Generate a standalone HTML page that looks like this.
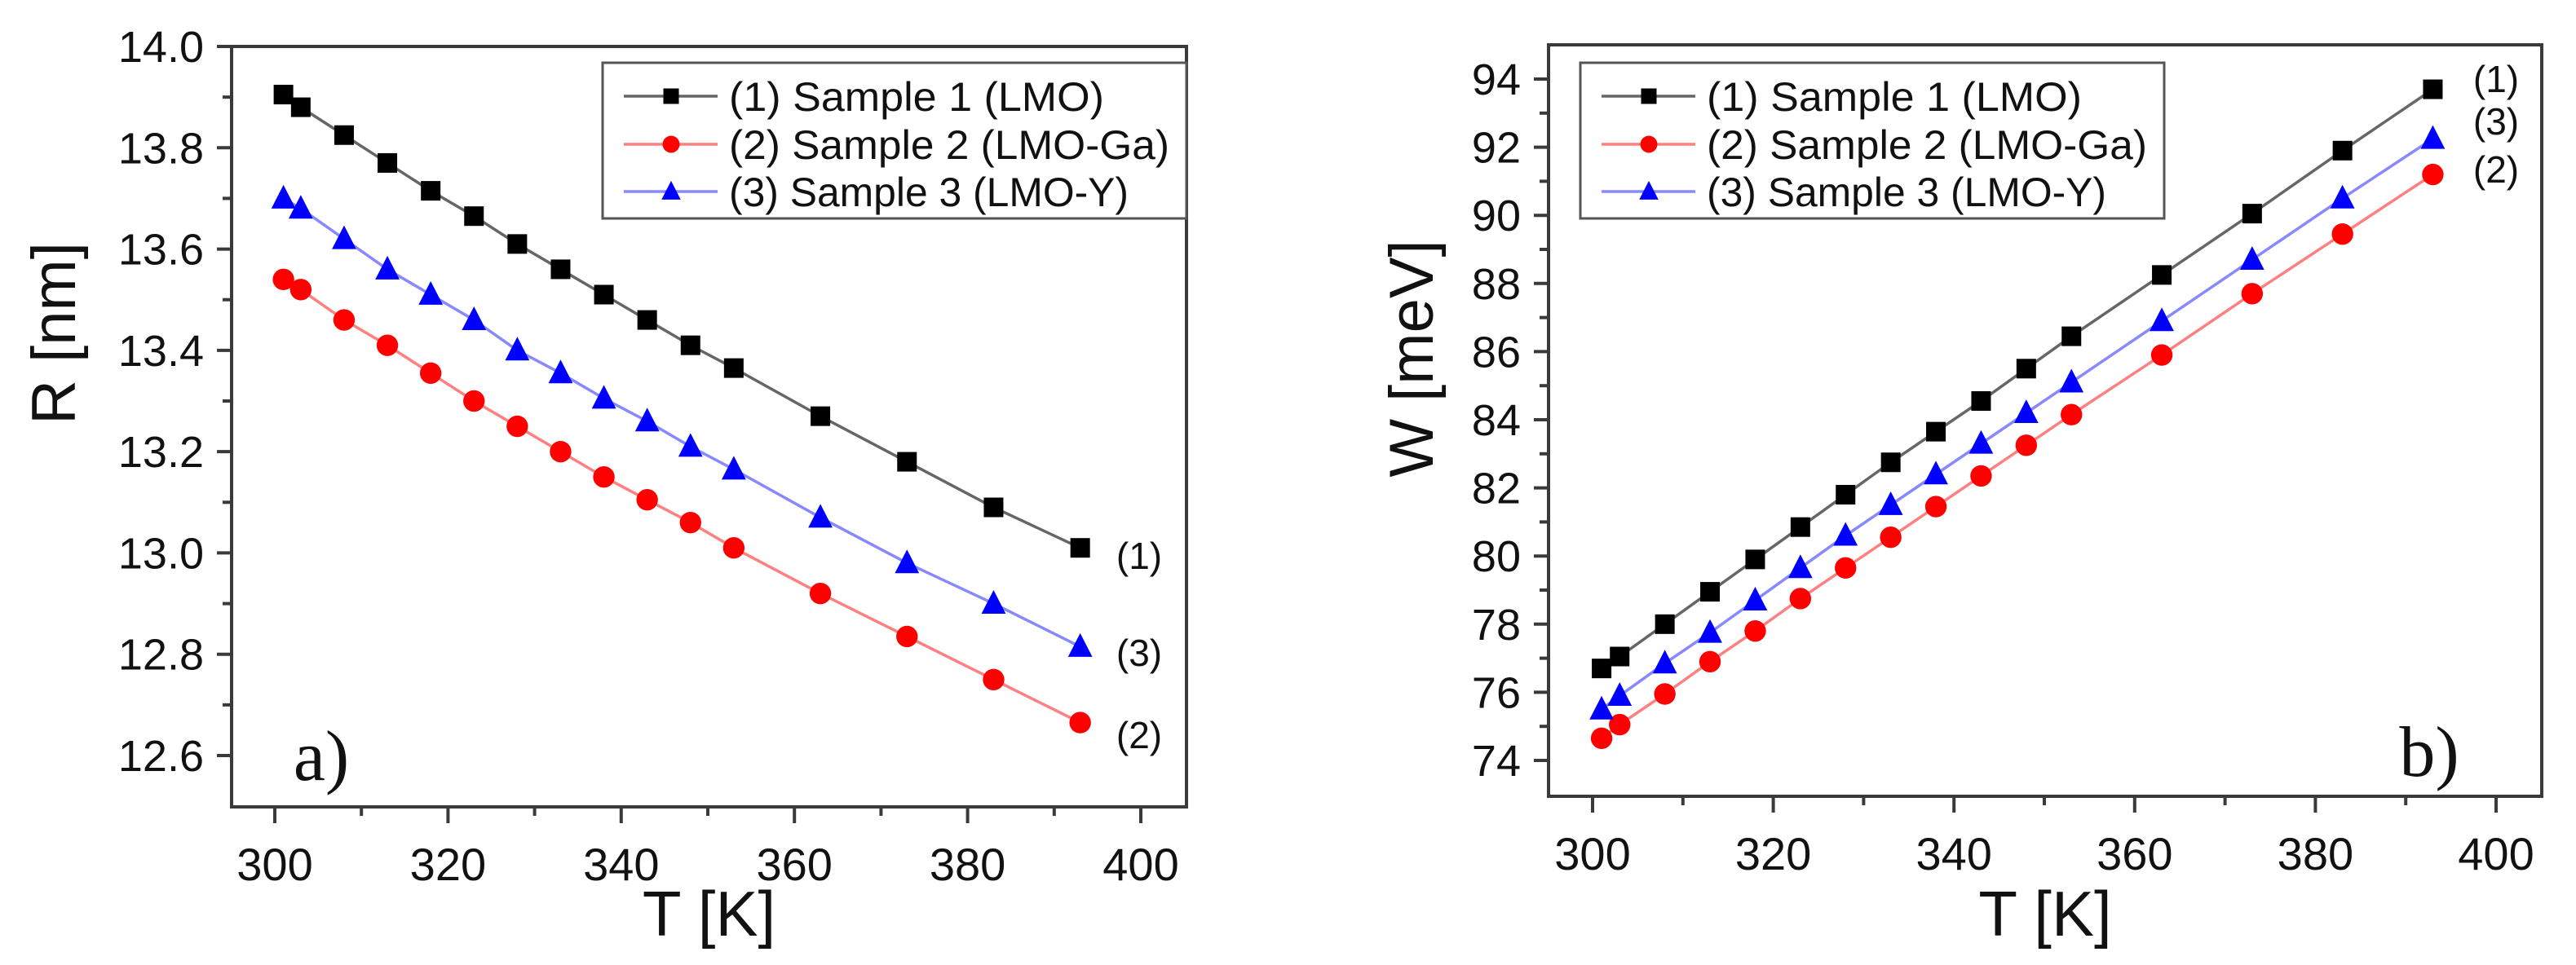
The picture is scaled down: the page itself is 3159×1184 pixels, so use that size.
<!DOCTYPE html>
<html><head><meta charset="utf-8"><style>
html,body{margin:0;padding:0;background:#fff;}
svg{display:block;}
text{font-family:"Liberation Sans",Arial,sans-serif;fill:#111;}
</style></head><body>
<svg id="chart" width="3159" height="1184" viewBox="0 0 3159 1184" xmlns="http://www.w3.org/2000/svg">
<rect x="0" y="0" width="3159" height="1184" fill="#fff"/>
<g id="pa"></g>
<g id="pb"></g>
</svg>
<script>
const temps = [301,303,308,313,318,323,328,333,338,343,348,353,363,373,383,393];
const rSample1 = [13.905,13.88,13.825,13.77,13.715,13.665,13.61,13.56,13.51,13.46,13.41,13.365,13.27,13.18,13.09,13.01];
const rSample2 = [13.54,13.52,13.46,13.41,13.355,13.30,13.25,13.20,13.15,13.105,13.06,13.01,12.92,12.835,12.75,12.665];
const rSample3 = [13.70,13.68,13.62,13.56,13.51,13.46,13.40,13.355,13.305,13.26,13.21,13.165,13.07,12.98,12.90,12.815];
const wSample1 = [76.7,77.05,78.0,78.95,79.9,80.85,81.8,82.75,83.65,84.55,85.5,86.45,88.25,90.05,91.9,93.7];
const wSample2 = [74.65,75.05,75.95,76.9,77.8,78.75,79.65,80.55,81.45,82.35,83.25,84.15,85.9,87.7,89.45,91.2];
const wSample3 = [75.5,75.9,76.85,77.75,78.7,79.65,80.6,81.5,82.4,83.3,84.2,85.1,86.9,88.7,90.5,92.25];
const xTicks = [300,320,340,360,380,400];
const rTicks = [12.6,12.8,13.0,13.2,13.4,13.6,13.8,14.0];
const wTicks = [74,76,78,80,82,84,86,88,90,92,94];
const legendLabels = ["(1) Sample 1 (LMO)","(2) Sample 2 (LMO-Ga)","(3) Sample 3 (LMO-Y)"];
const endLabels = ["(1)","(2)","(3)"];

const NS="http://www.w3.org/2000/svg";
function mk(parent,tag,attrs,txt){const e=document.createElementNS(NS,tag);for(const k in attrs)e.setAttribute(k,attrs[k]);if(txt!==undefined)e.textContent=txt;parent.appendChild(e);return e;}

const styles=[{line:"#666",fill:"#000",shape:"sq"},{line:"#ff8080",fill:"#f00",shape:"ci"},{line:"#8888ff",fill:"#00f",shape:"tr"}];

function marker(g,shape,cx,cy,fill,s){
  let e;
  if(shape==="sq"){e=mk(g,"rect",{x:cx-s*0.5,y:cy-s*0.5,width:s,height:s,fill:fill});}
  else if(shape==="ci"){e=mk(g,"circle",{cx:cx,cy:cy,r:s*0.55,fill:fill});}
  else {const h=s*1.15;e=mk(g,"polygon",{points:`${cx},${cy-h*0.6} ${cx-s*0.62},${cy+h*0.45} ${cx+s*0.62},${cy+h*0.45}`,fill:fill});}
  return e;
}

function panel(gid,cfg){
  const g=document.getElementById(gid);
  const X=v=>cfg.x0px+(v-300)*(cfg.x1px-cfg.x0px)/100;
  const Y=v=>cfg.ytopPx+(cfg.ytopVal-v)*(cfg.ybotPx-cfg.ytopPx)/(cfg.ytopVal-cfg.ybotVal);
  const L=cfg.fl,R=cfg.fr,T=cfg.ft,B=cfg.fb;
  let fr=mk(g,"rect",{x:L,y:T,width:R-L,height:B-T,fill:"none",stroke:"#3a3a3a","stroke-width":4});
  
  
  for(let v=300;v<=400;v+=10){
    const major=v%20===0;
    const t=mk(g,"line",{x1:X(v),x2:X(v),y1:B,y2:B+(major?20:11),stroke:"#3a3a3a","stroke-width":4});
    
    
  }
  xTicks.forEach(v=>{
    const t=mk(g,"text",{x:X(v),y:B+90,"font-size":56,"text-anchor":"middle"},String(v));
    
    
  });
  const yt=cfg.yticks;
  const step=yt[1]-yt[0];
  for(let v=cfg.ybotVal;v<=cfg.ytopVal+1e-9;v+=step/2){
    const vv=Math.round(v*1000)/1000;
    const major=yt.some(a=>Math.abs(a-vv)<1e-6);
    const t=mk(g,"line",{x1:L-(major?18:11),x2:L,y1:Y(vv),y2:Y(vv),stroke:"#3a3a3a","stroke-width":4});
    
    
  }
  yt.forEach(v=>{
    const t=mk(g,"text",{x:L-34,y:Y(v)+19,"font-size":54,"text-anchor":"end"},cfg.fmt(v));
    
    
  });
  let xt=mk(g,"text",{x:(L+R)/2,y:1148,"font-size":78,"text-anchor":"middle"},"T [K]");
  
  
  let ytt=mk(g,"text",{x:0,y:0,"font-size":76,"text-anchor":"middle",transform:`translate(${cfg.ytitleX},${cfg.ytitleY}) rotate(-90)`},cfg.ytitle);
  
  
  cfg.series.forEach((vals,i)=>{
    const st=styles[i];
    const sg=mk(g,"g",{});
    
    
    const pts=temps.map((t,j)=>X(t)+","+Y(vals[j])).join(" ");
    const pl=mk(sg,"polyline",{points:pts,fill:"none",stroke:st.line,"stroke-width":3.5});
    
    
    temps.forEach((t,j)=>{
      const m=marker(sg,st.shape,X(t),Y(vals[j]),st.fill,24);
      
      
    });
  });
  cfg.endPos.forEach((p,i)=>{
    const t=mk(g,"text",{x:p[0],y:p[1],"font-size":46,"text-anchor":"middle"},endLabels[i]);
    
    
  });
  const lg=mk(g,"g",{});
  
  
  const lb=mk(lg,"rect",{x:cfg.lgx,y:77,width:716,height:191,fill:"#fff",stroke:"#555","stroke-width":3});
  
  
  const rows=[118,177,235];
  const widths=[460,540,490];
  legendLabels.forEach((lab,i)=>{
    const st=styles[i];
    const eg=mk(lg,"g",{});
    
    
    mk(eg,"line",{x1:cfg.lgx+26,x2:cfg.lgx+141,y1:rows[i],y2:rows[i],stroke:st.line,"stroke-width":3.5});
    marker(eg,st.shape,cfg.lgx+84,rows[i],st.fill,19);
    mk(eg,"text",{x:cfg.lgx+155,y:rows[i]+18,"font-size":50,textLength:widths[i],lengthAdjust:"spacingAndGlyphs"},lab);
  });
  const pl=mk(g,"text",{x:cfg.letter[0],y:cfg.letter[1],"font-size":88,"text-anchor":"middle"},cfg.letterTxt);
  pl.style.fontFamily='"Liberation Serif",serif';
  
  
}

panel("pa",{x0px:337,x1px:1399,fl:284,fr:1455,ft:57,fb:990,ytopVal:14.0,ytopPx:57,ybotVal:12.6,ybotPx:927,
  yticks:rTicks,fmt:v=>v.toFixed(1),ytitle:"R [nm]",ytitleX:92,ytitleY:409,
  series:[rSample1,rSample2,rSample3],endPos:[[1397,698],[1397,918],[1397,817]],
  lgx:739,letter:[394,957],letterTxt:"a)"});
panel("pb",{x0px:1953,x1px:3061,fl:1899,fr:3117,ft:55,fb:977,ytopVal:94,ytopPx:97,ybotVal:74,ybotPx:933,
  yticks:wTicks,fmt:v=>String(v),ytitle:"W [meV]",ytitleX:1757,ytitleY:440,
  series:[wSample1,wSample2,wSample3],endPos:[[3061,113],[3061,224],[3061,165]],
  lgx:1938,letter:[2979,952],letterTxt:"b)"});
</script>
</body></html>
